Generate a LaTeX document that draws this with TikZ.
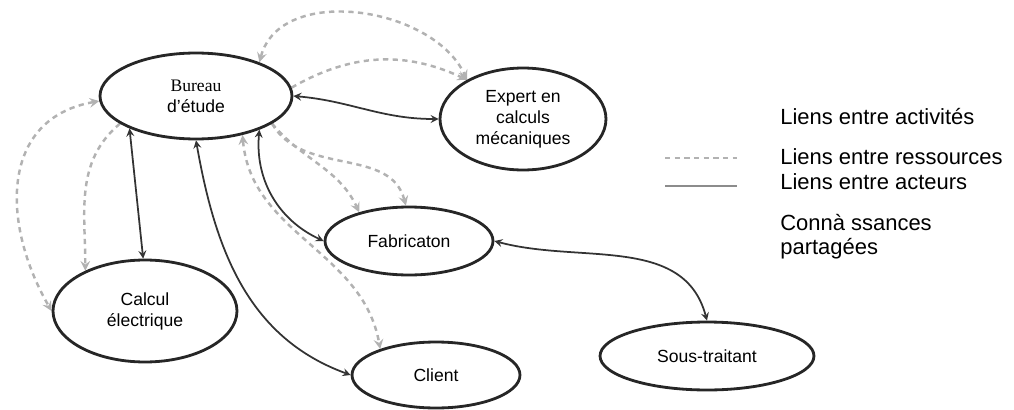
\documentclass[tikz,border=0pt]{standalone}
\usepackage{fontspec}
\setmainfont{Liberation Sans}
\newfontfamily\bureaufont{Liberation Serif}
\usetikzlibrary{shapes.geometric, arrows, backgrounds}
\tikzstyle{poste} = [ellipse, draw=black!85, line width=1.6pt, fill=white, text centered, align=center, inner sep=0pt, font=\fontsize{10}{12}\selectfont]
\tikzstyle{acteur} = [line width=1pt, draw=black!80, <->, >=stealth]
\tikzstyle{ressource} = [line width=1.4pt, draw=black!30, dash pattern=on 3pt off 2.5pt, ->, >=stealth]
\tikzstyle{legende} = [anchor=west, inner sep=0pt, align=left, font=\fontsize{12.5}{13.5}\selectfont]

\begin{document}
\begin{tikzpicture}[x=0.02cm, y=-0.02cm]
\useasboundingbox (0,0) rectangle (1014,409);

% Nodes
\node (bureau) [poste, minimum width=3.84cm, minimum height=1.72cm] at (196,96) {{\bureaufont Bureau}\\d'étude};
\node (expert) [poste, minimum width=3.32cm, minimum height=2.04cm] at (523,119) {Expert en\\calculs\\mécaniques};
\node (fabrication) [poste, minimum width=3.36cm, minimum height=1.36cm] at (409,241) {Fabricaton};
\node (calcul) [poste, minimum width=3.68cm, minimum height=2.04cm] at (145,311) {Calcul\\électrique};
\node (client) [poste, minimum width=3.36cm, minimum height=1.32cm] at (436,375) {Client};
\node (soustraitant) [poste, minimum width=4.28cm, minimum height=1.36cm] at (707,356) {Sous-traitant};

% Legend
\node (activites) [legende] at (780,117) {Liens entre activités};
\node (ressources) [legende] at (780,157) {Liens entre ressources};
\node (acteurs) [legende] at (780,182) {Liens entre acteurs};
\node (partage) [legende] at (780,237) {Connà ssances\\partagées};
\coordinate (ressA) at (665,158);
\coordinate (ressB) at (737,158);
\coordinate (actA) at (665,186);
\coordinate (actB) at (737,186);

\begin{scope}[on background layer]
% Liens entre acteurs
\draw [acteur] (bureau.east) to[out=-5, in=180] (expert.west);
\draw [acteur] (bureau.206) -- (calcul.92);
\draw [acteur] (bureau.south) to[out=-80, in=160] (client.west);
\draw [acteur] (bureau.-28) to[out=-95, in=155] (fabrication.west);
\draw [acteur] (fabrication.east) to[out=-15, in=105] (soustraitant.north);

% Liens entre ressources
\draw [ressource, <->] (bureau.28) to[out=75, in=115] (expert.145);
\draw [ressource] (bureau.5) to[out=30, in=155] (expert.145);
\draw [ressource, <->] (bureau.183) to[out=190, in=120, looseness=1.2] (calcul.west);
\draw [ressource] (bureau.200) to[out=220, in=90] (calcul.146);
\draw [ressource] (bureau.-20) to[out=-60, in=105] (fabrication.95);
\draw [ressource] (bureau.-20) to[out=-50, in=115] (fabrication.150);
\draw [ressource, <->] (bureau.-40) to[out=-85, in=100] (client.155);
\end{scope}

\draw [ressource, -] (ressA) -- (ressB);
\draw [line width=0.8pt, draw=black!45] (actA) -- (actB);

\end{tikzpicture}
\end{document}
